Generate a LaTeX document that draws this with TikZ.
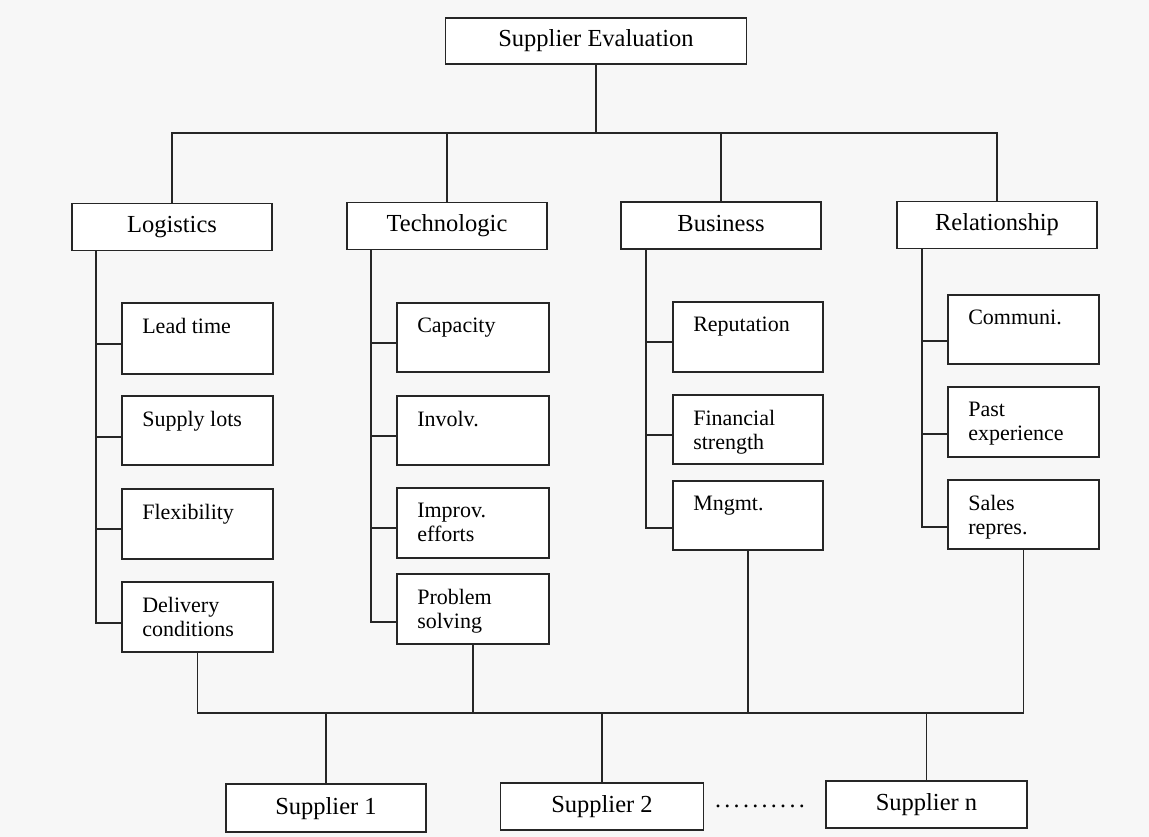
\documentclass[tikz,border=0pt]{standalone}
\usepackage{fontspec}
\setmainfont{Liberation Serif}
\begin{document}
\begin{tikzpicture}[x=1pt,y=-1pt,
  ln/.style={line width=1.8pt,draw=black!85},
  hbox/.style={ln,draw,fill=white,inner sep=0pt,minimum width=200pt,minimum height=47pt,
     text height=17pt,text depth=5pt,
     font=\fontsize{24.5}{26}\selectfont},
  sbox/.style={ln,draw,fill=white,inner sep=0pt,minimum height=70pt},
  stxt/.style={inner sep=0pt,anchor=north west,align=left,
     font=\fontsize{22}{24}\selectfont},
]
\useasboundingbox (0,0) rectangle (1149,837);
\fill[black!3] (0,0) rectangle (1149,837);

% --- macros
\newcommand\subbox[7]{% name, cx, cy, w, h, text, stub offset
  \node[sbox,minimum width=#4pt,minimum height=#5pt] (#1) at (#2,#3) {};
  \node[stxt] (#1-t) at ([xshift=21pt,yshift=-16pt]#1.north west) {#6};
  \path ([yshift=-#7pt]#1.west) coordinate (#1-c);
}

% --- top
\node[hbox,minimum width=301pt,minimum height=46pt] (top) at (596,41) {Supplier Evaluation};

% --- categories
\node[hbox] (log) at (172,227) {Logistics};
\node[hbox] (tec) at (447,226) {Technologic};
\node[hbox] (bus) at (721,225.5) {Business};
\node[hbox] (rel) at (997,225) {Relationship};

\coordinate (tb) at (0,133);
\draw[ln] (top.south) -- (top.south |- tb);
\draw[ln] (log.north) |- (tb -| rel.north) -- (rel.north);
\draw[ln] (tec.north |- tb) -- (tec.north);
\draw[ln] (bus.north |- tb) -- (bus.north);

% --- sub boxes
\subbox{lt}{197.5}{338.5}{151}{71}{Lead time}{5.5}
\subbox{sl}{197.5}{430.5}{151}{69}{Supply lots}{6.5}
\subbox{fx}{197.5}{524}{151}{70}{Flexibility}{5}
\subbox{dc}{197.5}{617}{151}{70}{Delivery\\conditions}{6}

\subbox{cap}{473}{337.5}{152}{69}{Capacity}{5.5}
\subbox{inv}{473}{430.5}{152}{69}{Involv.}{5.5}
\subbox{imp}{473}{523}{152}{70}{Improv.\\efforts}{5}
\subbox{ps}{473}{609}{152}{70}{Problem\\solving}{13}

\subbox{rep}{748}{337}{150}{70}{Reputation}{5}
\subbox{fin}{748}{429.5}{150}{69}{Financial\\strength}{5.5}
\subbox{mng}{748}{515.5}{150}{69}{Mngmt.}{12.5}

\subbox{com}{1023.5}{329.5}{151}{69}{Communi.}{11.5}
\subbox{past}{1023.5}{422}{151}{70}{Past\\experience}{12}
\subbox{sal}{1023.5}{514.5}{151}{69}{Sales\\repres.}{12.5}

% --- branches
\coordinate (lb) at ([xshift=25pt]log.south west);
\coordinate (tcb) at ([xshift=25pt]tec.south west);
\coordinate (bb) at ([xshift=26pt]bus.south west);
\coordinate (rb) at ([xshift=25.5pt]rel.south west);

\draw[ln] (lb) |- (dc-c);
\draw[ln] (lb |- lt-c) -- (lt-c);
\draw[ln] (lb |- sl-c) -- (sl-c);
\draw[ln] (lb |- fx-c) -- (fx-c);

\draw[ln] (tcb) |- (ps-c);
\draw[ln] (tcb |- cap-c) -- (cap-c);
\draw[ln] (tcb |- inv-c) -- (inv-c);
\draw[ln] (tcb |- imp-c) -- (imp-c);

\draw[ln] (bb) |- (mng-c);
\draw[ln] (bb |- rep-c) -- (rep-c);
\draw[ln] (bb |- fin-c) -- (fin-c);

\draw[ln] (rb) |- (sal-c);
\draw[ln] (rb |- com-c) -- (com-c);
\draw[ln] (rb |- past-c) -- (past-c);

% --- suppliers
\node[hbox,minimum height=48pt] (s1) at (326,808) {Supplier 1};
\node[hbox,minimum width=203pt] (s2) at (602,806.5) {Supplier 2};
\node[hbox,minimum width=201pt] (sn) at (926.5,804.5) {Supplier n};
\node[inner sep=0pt] (dots) at (760,806) {\makebox[93pt]{\xleaders\hbox to 9.3pt{\hss\fontsize{24}{26}\selectfont.\hss}\hfill}};

\coordinate (bt) at (0,713);
\draw[ln] (dc.south) |- (bt -| sal.south) -- (sal.south);
\draw[ln] (ps.south) -- (ps.south |- bt);
\draw[ln] (mng.south) -- (mng.south |- bt);
\draw[ln] (s1.north |- bt) -- (s1.north);
\draw[ln] (s2.north |- bt) -- (s2.north);
\draw[ln] (sn.north |- bt) -- (sn.north);
\end{tikzpicture}
\end{document}
